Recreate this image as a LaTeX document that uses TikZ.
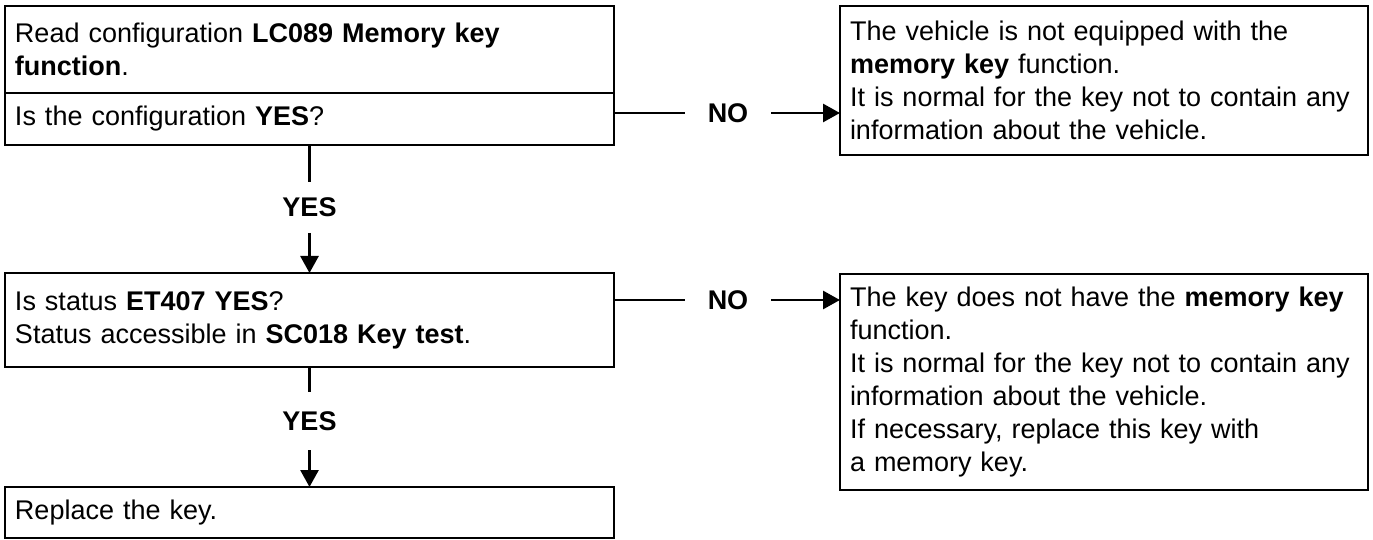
\documentclass[tikz,border=0pt]{standalone}
\usepackage{fontspec}
\setmainfont{Liberation Sans}
\usetikzlibrary{arrows.meta,calc}
\begin{document}
\begin{tikzpicture}[x=0.5pt,y=-0.5pt,
  box/.style={draw, line width=1.4pt, rectangle, anchor=north west, outer sep=0pt,
    inner xsep=5pt, inner ysep=0pt, align=left,
    font=\fontsize{13.5pt}{16.5pt}\selectfont},
  lbl/.style={font=\fontsize{13.5pt}{16.5pt}\selectfont\bfseries, inner ysep=0pt, outer sep=0pt},
  nolbl/.style={lbl, inner xsep=11.5pt},
  yeslbl/.style={lbl, inner xsep=0pt, minimum height=25.5pt},
  conn/.style={line width=1.4pt},
  arr/.style={line width=1.4pt, -{Triangle[width=9pt,length=8.5pt]}}]
\useasboundingbox[fill=white] (0,0) rectangle (1373,540);

\node[box, text width=294.5pt, minimum height=43.5pt] (b1a) at (5,6)
  {Read configuration \textbf{LC089 Memory key}\\ \textbf{function}.};
\node[box, text width=294.5pt, minimum height=26pt] (b1b) at (5,93)
  {Is the configuration \textbf{YES}?};
\node[box, text width=254pt, minimum height=74.5pt] (b2) at (840,6)
  {The vehicle is not equipped with the\\ \textbf{memory key} function.\\ It is normal for the key not to contain any\\ information about the vehicle.};
\node[box, text width=294.5pt, minimum height=47pt] (b3) at (5,273)
  {Is status \textbf{ET407 YES}?\\ Status accessible in \textbf{SC018 Key test}.};
\node[box, text width=294.5pt, minimum height=25.5pt] (b4) at (5,487)
  {Replace the key.};
\node[box, text width=254pt, minimum height=108pt] (b5) at (840,274)
  {The key does not have the \textbf{memory key}\\ function.\\ It is normal for the key not to contain any\\ information about the vehicle.\\ If necessary, replace this key with\\ a memory key.};

\node[nolbl] (no1) at (728,113) {NO};
\node[nolbl] (no2) at (728,300) {NO};
\node[yeslbl] (yes1) at (309.5,207.5) {YES};
\node[yeslbl, minimum height=29pt] (yes2) at (309.5,421) {YES};

\draw[conn] (b1b.east |- no1) -- (no1.west);
\draw[arr] (no1.east) -- (no1 -| b2.west);
\draw[conn] (b3.east |- no2) -- (no2.west);
\draw[arr] (no2.east) -- (no2 -| b5.west);

\draw[conn] (b1b.south) -- (yes1.north);
\draw[arr] (yes1.south) -- (b3.north);
\draw[conn] (b3.south) -- (yes2.north);
\draw[arr] (yes2.south) -- (b4.north);
\end{tikzpicture}
\end{document}
